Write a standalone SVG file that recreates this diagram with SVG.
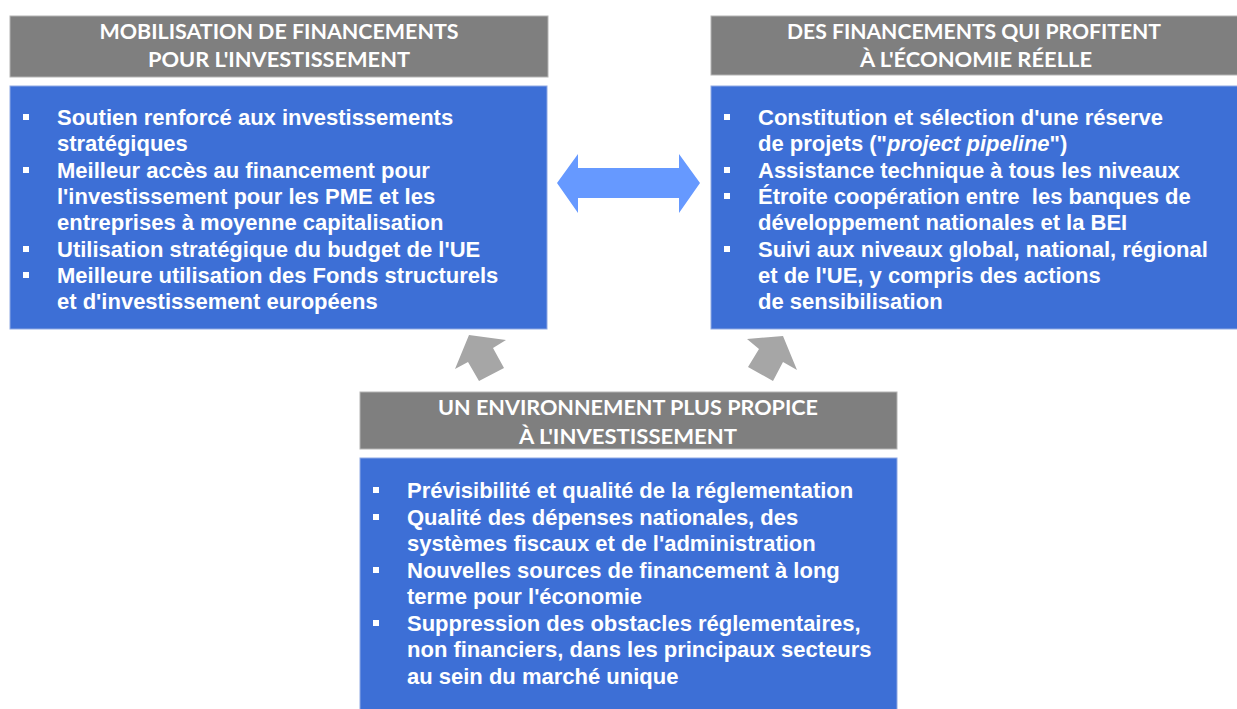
<svg xmlns="http://www.w3.org/2000/svg" width="1237" height="709" viewBox="0 0 1237 709">
  <style>
    .head { fill: #7f7f7f; stroke: #b4b4b4; stroke-width: 1; }
    .box { fill: #3d6fd6; stroke: #8fa9e3; stroke-width: 1; }
    .htxt { font-family: Lato, "Open Sans", sans-serif; font-weight: 700; font-size: 21.5px; fill: #ffffff; text-anchor: middle; }
    .btxt { font-family: "Liberation Sans", Arial, sans-serif; font-weight: 700; font-size: 22px; fill: #ffffff; white-space: pre; }
    .bul { fill: #ffffff; }
    .dbl { fill: #6699ff; }
    .blk { fill: #a6a6a6; }
  </style>
  <rect width="1237" height="709" fill="#ffffff"/>

  <!-- Top-left block: mobilising finance -->
  <g id="node-mobilisation">
    <rect class="head" x="10" y="16" width="538" height="61"/>
    <text class="htxt" x="279" y="39" textLength="359" lengthAdjust="spacingAndGlyphs">MOBILISATION DE FINANCEMENTS</text>
    <text class="htxt" x="279" y="67" textLength="262" lengthAdjust="spacingAndGlyphs">POUR L'INVESTISSEMENT</text>
    <rect class="box" x="10" y="86" width="537" height="243"/>
    <rect class="bul" x="23" y="114" width="6" height="6"/>
    <rect class="bul" x="23" y="167" width="6" height="6"/>
    <rect class="bul" x="23" y="246" width="6" height="6"/>
    <rect class="bul" x="23" y="272" width="6" height="6"/>
    <text class="btxt" x="57" y="125">Soutien renforcé aux investissements</text>
    <text class="btxt" x="57" y="151">stratégiques</text>
    <text class="btxt" x="57" y="178">Meilleur accès au financement pour</text>
    <text class="btxt" x="57" y="204">l'investissement pour les PME et les</text>
    <text class="btxt" x="57" y="230">entreprises à moyenne capitalisation</text>
    <text class="btxt" x="57" y="257">Utilisation stratégique du budget de l'UE</text>
    <text class="btxt" x="57" y="283">Meilleure utilisation des Fonds structurels</text>
    <text class="btxt" x="57" y="309">et d'investissement européens</text>
  </g>

  <!-- Top-right block: finance for the real economy -->
  <g id="node-economie">
    <rect class="head" x="711" y="16" width="530" height="59"/>
    <text class="htxt" x="974" y="39" textLength="374" lengthAdjust="spacingAndGlyphs">DES FINANCEMENTS QUI PROFITENT</text>
    <text class="htxt" x="976" y="67" textLength="232" lengthAdjust="spacingAndGlyphs">À L'ÉCONOMIE RÉELLE</text>
    <rect class="box" x="711" y="86" width="530" height="243"/>
    <rect class="bul" x="724" y="114" width="6" height="6"/>
    <rect class="bul" x="724" y="167" width="6" height="6"/>
    <rect class="bul" x="724" y="193" width="6" height="6"/>
    <rect class="bul" x="724" y="246" width="6" height="6"/>
    <text class="btxt" x="758" y="125">Constitution et sélection d'une réserve</text>
    <text class="btxt" x="758" y="151">de projets ("<tspan font-style="italic">project pipeline</tspan>")</text>
    <text class="btxt" x="758" y="178">Assistance technique à tous les niveaux</text>
    <text class="btxt" x="758" y="204">Étroite coopération entre  les banques de</text>
    <text class="btxt" x="758" y="230">développement nationales et la BEI</text>
    <text class="btxt" x="758" y="257">Suivi aux niveaux global, national, régional</text>
    <text class="btxt" x="758" y="283">et de l'UE, y compris des actions</text>
    <text class="btxt" x="758" y="309">de sensibilisation</text>
  </g>

  <!-- Bottom block: investment-friendly environment -->
  <g id="node-environnement">
    <rect class="head" x="360" y="392" width="537" height="57"/>
    <text class="htxt" x="628" y="415" textLength="380" lengthAdjust="spacingAndGlyphs">UN ENVIRONNEMENT PLUS PROPICE</text>
    <text class="htxt" x="628" y="444" textLength="218" lengthAdjust="spacingAndGlyphs">À L'INVESTISSEMENT</text>
    <rect class="box" x="360" y="458" width="537" height="255"/>
    <rect class="bul" x="373" y="487" width="6" height="6"/>
    <rect class="bul" x="373" y="514" width="6" height="6"/>
    <rect class="bul" x="373" y="567" width="6" height="6"/>
    <rect class="bul" x="373" y="620" width="6" height="6"/>
    <text class="btxt" x="407" y="498">Prévisibilité et qualité de la réglementation</text>
    <text class="btxt" x="407" y="525">Qualité des dépenses nationales, des</text>
    <text class="btxt" x="407" y="551">systèmes fiscaux et de l'administration</text>
    <text class="btxt" x="407" y="578">Nouvelles sources de financement à long</text>
    <text class="btxt" x="407" y="604">terme pour l'économie</text>
    <text class="btxt" x="407" y="631">Suppression des obstacles réglementaires,</text>
    <text class="btxt" x="407" y="657">non financiers, dans les principaux secteurs</text>
    <text class="btxt" x="407" y="684">au sein du marché unique</text>
  </g>

  <!-- Connectors -->
  <g id="connectors">
    <polygon class="dbl" points="557,183 578,154 578,168 679,168 679,154 700,183 679,213 679,198 578,198 578,213"/>
    <polygon class="blk" points="469,335 506,340 493,348 504,368 479,381 468,362 455,369"/>
    <polygon class="blk" points="783,336 797,370 783,362 773,381 748,367 759,349 747,339"/>
  </g>
</svg>
